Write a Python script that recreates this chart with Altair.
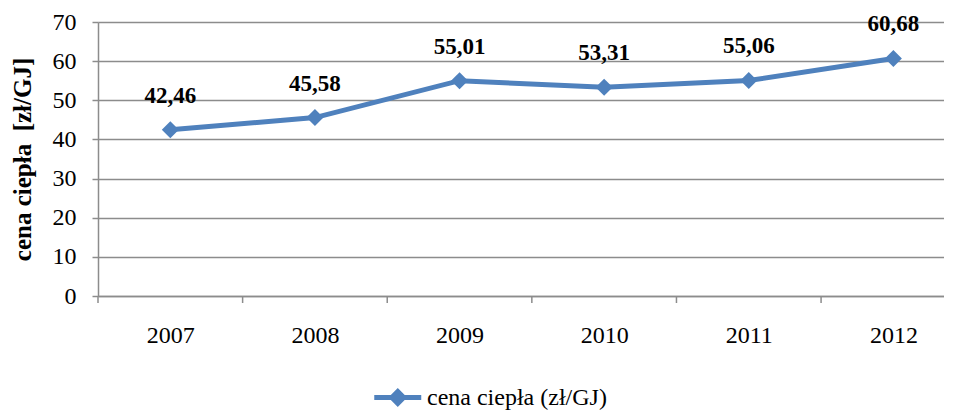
import altair as alt
import pandas as pd

years = [2007, 2008, 2009, 2010, 2011, 2012]
prices = [42.46, 45.58, 55.01, 53.31, 55.06, 60.68]
series_name = "cena ciepła (zł/GJ)"
y_ticks = [0, 10, 20, 30, 40, 50, 60, 70]
boundaries = [2006.5, 2007.5, 2008.5, 2009.5, 2010.5, 2011.5]

df = pd.DataFrame({"year": years, "value": prices, "series": [series_name] * len(years)})
bdf = pd.DataFrame({"b": boundaries})

FONT = "Liberation Serif"
BLUE = "#4F81BD"
GRAY = "#8C8C8C"

xscale = alt.Scale(domain=[2006.5, 2012.35], nice=False, zero=False)
yscale = alt.Scale(domain=[0, 70], nice=False)

x_axis = alt.Axis(values=years, format="d", ticks=False, grid=False, domain=True,
                  domainColor=GRAY, domainWidth=1.5, labelFont=FONT, labelFontSize=24,
                  labelColor="black", labelPadding=27, labelOverlap=False, title=None)
x_enc = alt.X("year:Q", scale=xscale, axis=x_axis)
y_enc = alt.Y(
    "value:Q", scale=yscale,
    axis=alt.Axis(values=y_ticks, grid=True, gridColor=GRAY, gridWidth=1.5,
                  domainColor=GRAY, domainWidth=1.5, tickColor=GRAY, tickWidth=1.5,
                  tickSize=6, labelFont=FONT, labelFontSize=24, labelColor="black",
                  labelPadding=16, labelOverlap=False,
                  title="cena ciepła \u00a0[zł/GJ]", titleFont=FONT, titleFontSize=25,
                  titleFontWeight="bold", titleColor="black", titlePadding=17),
)

color_enc = alt.Color(
    "series:N",
    scale=alt.Scale(range=[BLUE]),
    legend=alt.Legend(orient="none", legendX=297, legendY=361, direction="horizontal",
                      title=None, padding=0, labelFont=FONT, labelFontSize=24, labelLimit=400,
                      labelColor="black",
                      symbolType="M-3,0L1,0M-1,-0.5L-0.5,0L-1,0.5L-1.5,0Z",
                      symbolSize=552, symbolStrokeWidth=5, symbolFillColor=BLUE,
                      labelOffset=3),
)

base = alt.Chart(df).encode(x=x_enc, y=y_enc)

line = base.mark_line(strokeWidth=5).encode(color=color_enc)
points = base.mark_point(shape="diamond", filled=True, size=290, opacity=1).encode(
    color=alt.Color("series:N", legend=None)
)
labels = base.transform_calculate(
    label="replace(format(datum.value, '.2f'), '.', ',')"
).mark_text(font=FONT, fontSize=23, fontWeight="bold", color="black", dy=-34).encode(
    text="label:N"
)
ticks = alt.Chart(bdf).mark_rule(color=GRAY, strokeWidth=1.5).encode(
    x=alt.X("b:Q", scale=xscale, axis=x_axis), y=alt.value(274), y2=alt.value(281)
)

chart = alt.layer(line, points, labels, ticks).properties(
    width=846, height=274, padding={"left": 2, "top": 2, "right": 0, "bottom": 0}
).configure_view(stroke=None).resolve_scale(color="shared")

chart.save("out.html", embed_options={"renderer": "svg", "actions": False})
